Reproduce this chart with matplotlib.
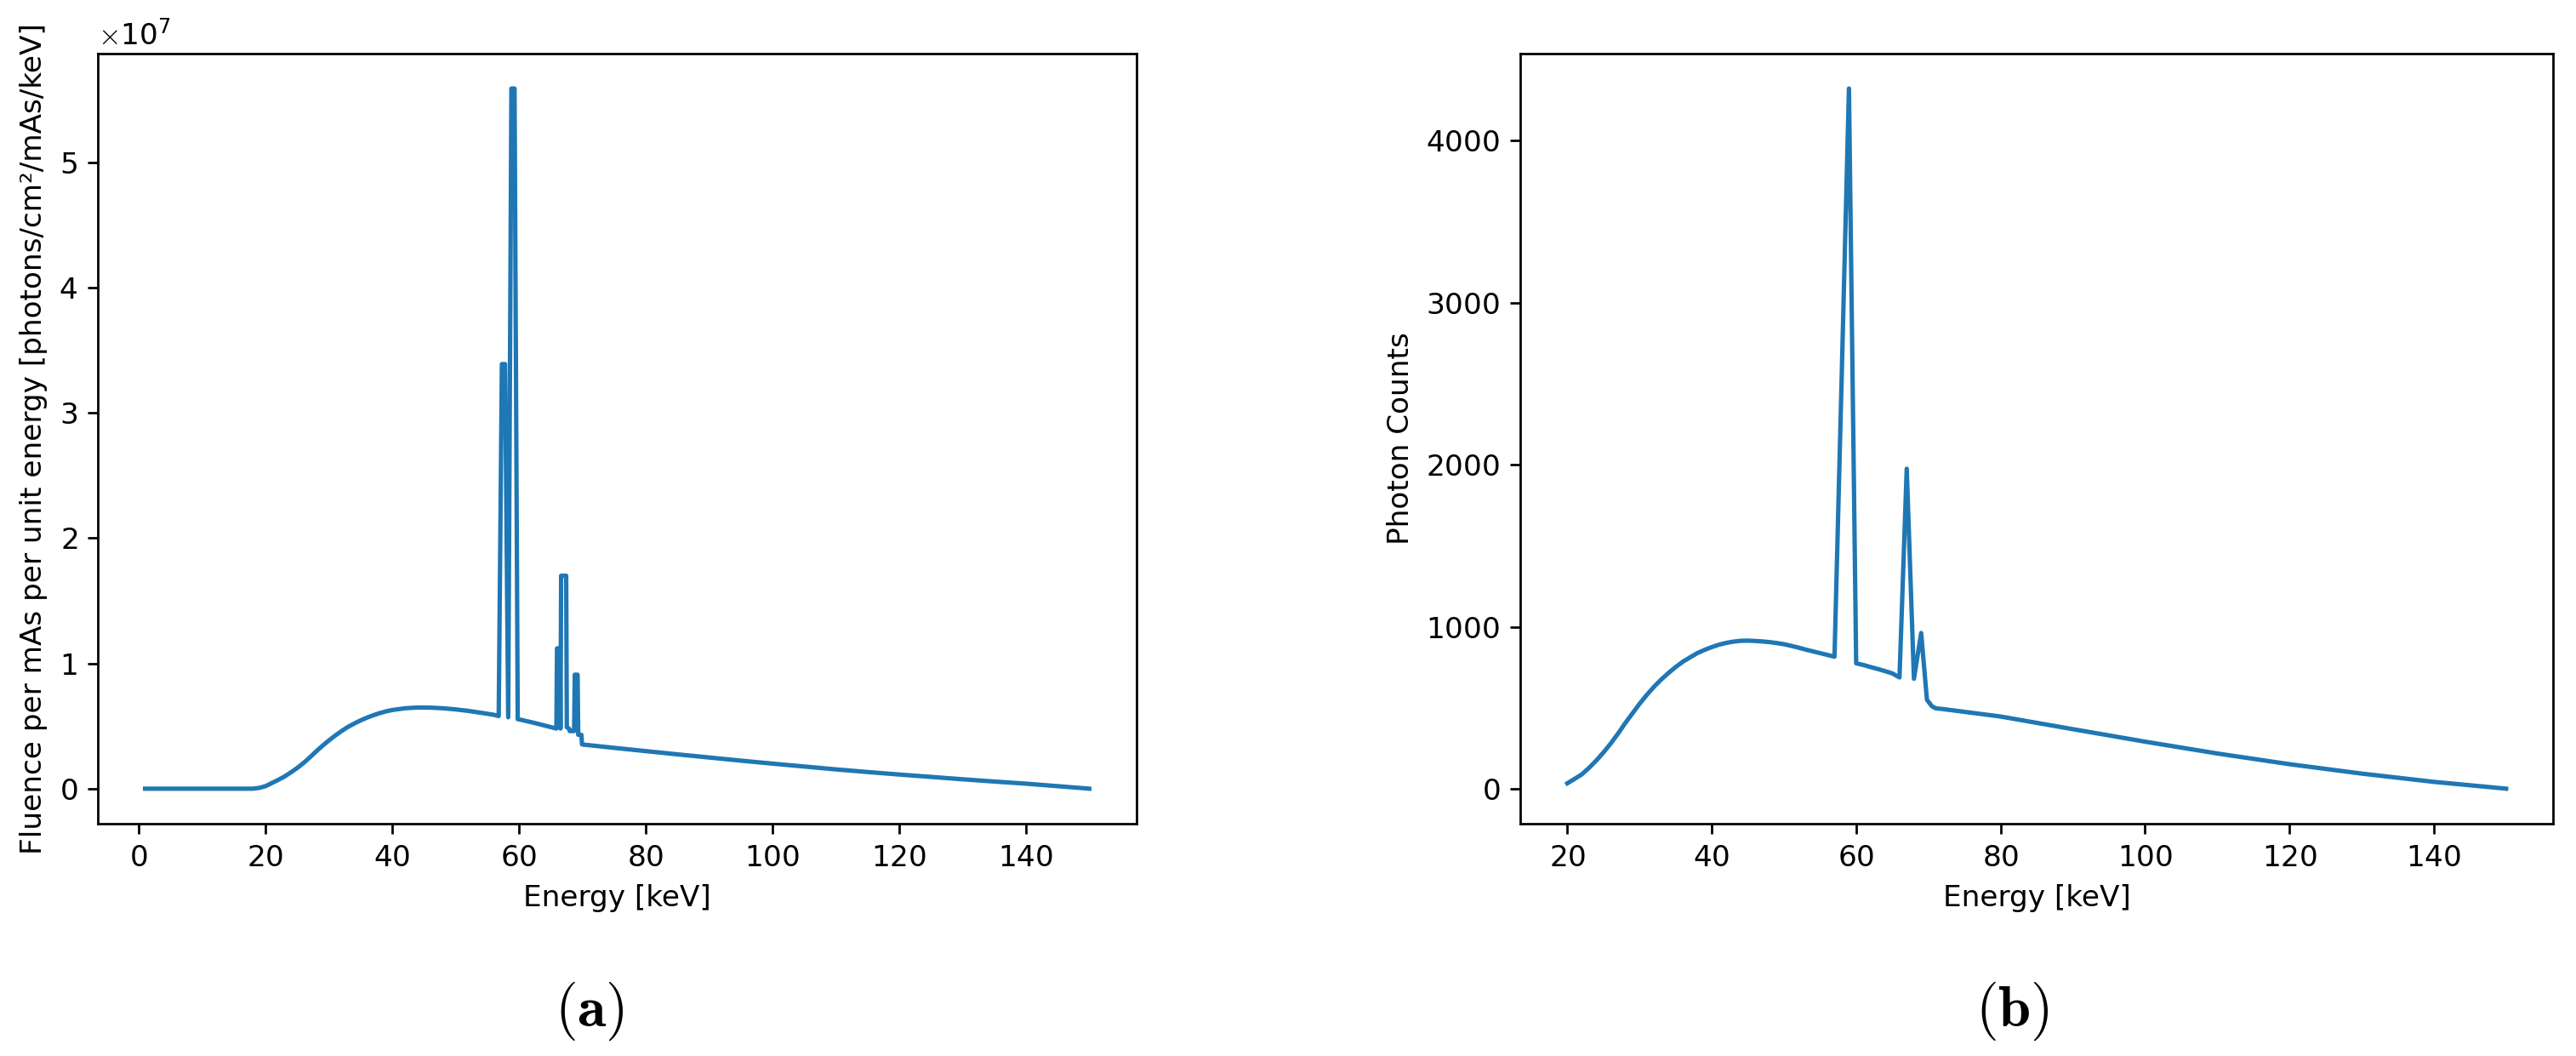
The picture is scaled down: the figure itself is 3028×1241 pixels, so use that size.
import matplotlib
matplotlib.use("Agg")
import matplotlib.pyplot as plt

# (a) fluence spectrum, values in units of 1e7 photons/cm^2/mAs/keV
energy_a = [1, 5, 10, 15, 18, 19, 20, 21, 22, 23, 24, 25, 26, 27, 28, 29, 30,
            31, 32, 33, 34, 35, 36, 37, 38, 39, 40, 42, 44, 46, 48, 50, 52,
            54, 56, 56.8, 57.3, 57.8, 58.3, 58.8, 59.3, 59.8, 60.3, 62, 64,
            65.9, 66.0, 66.45, 66.55, 66.65, 67.45, 67.55, 67.9, 68.0, 68.7,
            68.8, 69.25, 69.35, 69.85, 69.95, 75, 80, 85, 90, 95, 100, 105,
            110, 115, 120, 125, 130, 135, 140, 145, 150]
fluence_a = [0.0, 0.0, 0.0, 0.0, 0.0, 0.006, 0.02, 0.045, 0.07, 0.097, 0.13,
             0.165, 0.205, 0.25, 0.298, 0.343, 0.385, 0.424, 0.46, 0.493,
             0.52, 0.545, 0.567, 0.586, 0.603, 0.617, 0.628, 0.642, 0.648,
             0.647, 0.642, 0.633, 0.621, 0.606, 0.59, 0.58, 3.39, 3.39, 0.57,
             5.59, 5.59, 0.555, 0.55, 0.53, 0.505, 0.48, 1.12, 1.12, 0.48,
             1.70, 1.70, 0.49, 0.48, 0.46, 0.46, 0.91, 0.91, 0.43, 0.43,
             0.353, 0.326, 0.30, 0.274, 0.249, 0.224, 0.20, 0.177, 0.154,
             0.133, 0.113, 0.094, 0.075, 0.057, 0.04, 0.02, 0.0]

# (b) detected photon counts
energy_b = [20, 21, 22, 23, 24, 25, 26, 27, 28, 29, 30, 31, 32, 33, 34, 35,
            36, 37, 38, 39, 40, 41, 42, 43, 44, 45, 46, 47, 48, 49, 50, 51,
            52, 53, 54, 55, 56, 57, 58, 59, 60, 61, 62, 63, 64, 65, 66, 67,
            68, 69, 69.8, 70.5, 71, 72, 80, 90, 100, 110, 120, 130, 140, 150]
counts_b = [35, 62, 90, 130, 175, 225, 280, 340, 405, 465, 525, 580, 630,
            675, 715, 752, 785, 812, 838, 858, 875, 890, 901, 909, 914, 915,
            913, 910, 906, 900, 893, 883, 872, 860, 849, 838, 827, 816, 2550,
            4320, 775, 765, 752, 740, 727, 713, 688, 1975, 680, 962, 550,
            510, 498, 493, 447, 369, 292, 219, 153, 95, 44, 2]

xticks_a = [0, 20, 40, 60, 80, 100, 120, 140]
xticks_b = [20, 40, 60, 80, 100, 120, 140]
yticks_b = [0, 1000, 2000, 3000, 4000]

plt.rcParams["axes.formatter.use_mathtext"] = True
plt.rcParams["mathtext.fontset"] = "cm"

DPI = 247
fig = plt.figure(figsize=(3028 / DPI, 1241 / DPI), dpi=DPI)

ax_a = fig.add_axes([0.0380, 0.2200, 0.4032, 0.7293])
ax_a.plot(energy_a, [v * 1e7 for v in fluence_a], color="#1f77b4", linewidth=1.5)
ax_a.set_xticks(xticks_a)
ax_a.set_xlabel("Energy [keV]")
ax_a.set_ylabel("Fluence per mAs per unit energy [photons/cm²/mAs/keV]")

ax_b = fig.add_axes([0.5902, 0.2200, 0.4009, 0.7293])
ax_b.plot(energy_b, counts_b, color="#1f77b4", linewidth=1.5)
ax_b.set_xticks(xticks_b)
ax_b.set_yticks(yticks_b)
ax_b.set_xlabel("Energy [keV]")
ax_b.set_ylabel("Photon Counts")

fig.text(0.2289, 0.0427, r"$(\mathbf{a})$", fontsize=20, ha="center", va="center")
fig.text(0.7810, 0.0427, r"$(\mathbf{b})$", fontsize=20, ha="center", va="center")

fig.savefig("out.png", dpi=DPI)
